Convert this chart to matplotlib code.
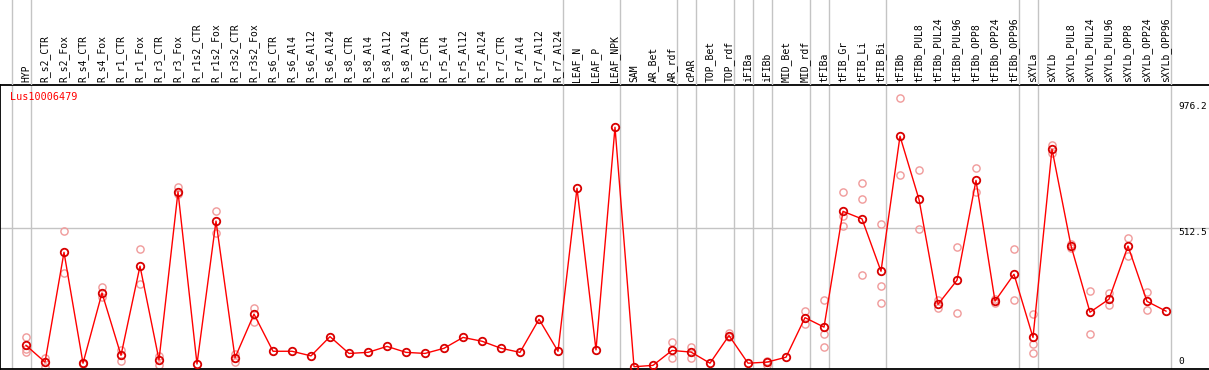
import numpy as np
import matplotlib
matplotlib.use("Agg")
import matplotlib.pyplot as plt

# Sample names (x categories)
samples = [
    "HYP", "R_s2_CTR", "R_s2_Fox", "R_s4_CTR", "R_s4_Fox", "R_r1_CTR", "R_r1_Fox",
    "R_r3_CTR", "R_r3_Fox", "R_r1s2_CTR", "R_r1s2_Fox", "R_r3s2_CTR", "R_r3s2_Fox",
    "R_s6_CTR", "R_s6_Al4", "R_s6_Al12", "R_s6_Al24", "R_s8_CTR", "R_s8_Al4",
    "R_s8_Al12", "R_s8_Al24", "R_r5_CTR", "R_r5_Al4", "R_r5_Al12", "R_r5_Al24",
    "R_r7_CTR", "R_r7_Al4", "R_r7_Al12", "R_r7_Al24", "LEAF_N", "LEAF_P", "LEAF_NPK",
    "SAM", "AR_Bet", "AR_rdf", "cPAR", "TOP_Bet", "TOP_rdf", "iFIBa", "iFIBb",
    "MID_Bet", "MID_rdf", "tFIBa", "tFIB_Gr", "tFIB_Li", "tFIB_Bi", "tFIBb",
    "tFIBb_PUL8", "tFIBb_PUL24", "tFIBb_PUL96", "tFIBb_OPP8", "tFIBb_OPP24", "tFIBb_OPP96",
    "sXYLa", "sXYLb", "sXYLb_PUL8", "sXYLb_PUL24", "sXYLb_PUL96", "sXYLb_OPP8",
    "sXYLb_OPP24", "sXYLb_OPP96",
]

# mean expression per sample
means = [
    80, 18, 423, 14, 273, 43, 372, 26, 646, 11, 538, 34, 195,
    58, 58, 41, 112, 50, 54, 76, 54, 50, 69, 109, 95, 69, 54, 176, 58,
    659, 63, 884,
    1, 6, 61, 55, 14, 116, 14, 18, 36, 182, 147, 574, 546, 353,
    851, 618, 231, 320, 688, 243, 342,
    109, 803, 447, 202, 250, 446, 242, 206,
]

# replicate values (sample index, value)
rep_idx = [0, 0, 0, 1, 1, 2, 2, 3, 3, 4, 4, 5, 5, 6, 6, 7, 7, 8, 8, 10, 10, 11, 11,
           12, 12, 34, 34, 35, 35, 37, 37, 39, 39, 41, 41, 42, 42, 42, 43, 43, 43,
           44, 44, 44, 45, 45, 45, 46, 46, 47, 47, 48, 48, 49, 49, 50, 50, 51, 51,
           52, 52, 53, 53, 53, 54, 54, 55, 55, 56, 56, 57, 57, 58, 58, 59, 59]
rep_val = [110, 65, 55, 34, 1, 500, 345, 16, 12, 295, 259, 63, 22, 435, 305, 42, 9,
           663, 638, 574, 495, 47, 20, 216, 167, 91, 32, 75, 34, 127, 110, 22, 6,
           207, 157, 246, 123, 74, 644, 557, 519, 677, 618, 338, 526, 297, 235,
           991, 708, 725, 508, 247, 216, 441, 198, 735, 644, 250, 236, 434, 246,
           194, 85, 50, 818, 788, 455, 440, 280, 121, 274, 227, 476, 409, 277, 210]

# group boundaries (index of last sample in each group)
group_ends = [-1, 0, 28, 31, 34, 35, 37, 38, 39, 41, 42, 45, 52, 53, 60]

yticks = [0, 512.5, 976.2]
title = "Lus10006479"

W, H = 1209, 370
fig = plt.figure(figsize=(W / 100, H / 100), dpi=100)

# pixel helpers: sample i sits at x = 26 + 19 i, value v at y = 367 - 0.2712 v
x_lo, x_hi = -26 / 19, (W - 26) / 19
k = 0.2712
top_px, bot_px = 85, 369
ax = fig.add_axes([0, (H - bot_px) / H, 1, (bot_px - top_px) / H])
ax.set_xlim(x_lo, x_hi)
ax.set_ylim((367 - bot_px) / k, (367 - top_px) / k)

hdr = fig.add_axes([0, (H - top_px) / H, 1, top_px / H], sharex=ax)
hdr.set_ylim(0, top_px)
hdr.axis("off")

grey = "#c4c4c4"
for g in group_ends:
    ax.axvline(g + 0.24, color=grey, lw=1, zorder=0)
    hdr.axvline(g + 0.24, color=grey, lw=1, zorder=0)
ax.axhline(512.5, color=grey, lw=1, zorder=0)

x = np.arange(len(samples))
ax.plot(rep_idx, rep_val, "o", ms=5.2, mfc="none", mec="#f09a9a", mew=1.0, zorder=2)
ax.plot(x, means, "-", color="#ff0000", lw=1, zorder=3)
ax.plot(x, means, "o", ms=5.4, mfc="none", mec="#d80000", mew=1.3, zorder=4)

mono = "DejaVu Sans Mono"
for i, s in enumerate(samples):
    hdr.text(i, 3, s, rotation=90, ha="center", va="bottom", fontsize=7,
             family=mono, color="black")

for v in yticks:
    off = 5 if v == 0 else -4
    ax.annotate(f"{v:g}", (60.63, v), xytext=(0, off), textcoords="offset pixels",
                ha="left", va="center", fontsize=6.8, family=mono, color="black",
                annotation_clip=False)

ax.text(10 / 19 + x_lo, (367 - 97) / k, title, ha="left", va="center", fontsize=7.3,
        family=mono, color="#ff0000")

for side in ["left", "top", "bottom"]:
    ax.spines[side].set_color("black")
    ax.spines[side].set_linewidth(1.3)
ax.spines["right"].set_visible(False)
ax.set_xticks([])
ax.set_yticks([])

fig.savefig("out.png", dpi=100)
